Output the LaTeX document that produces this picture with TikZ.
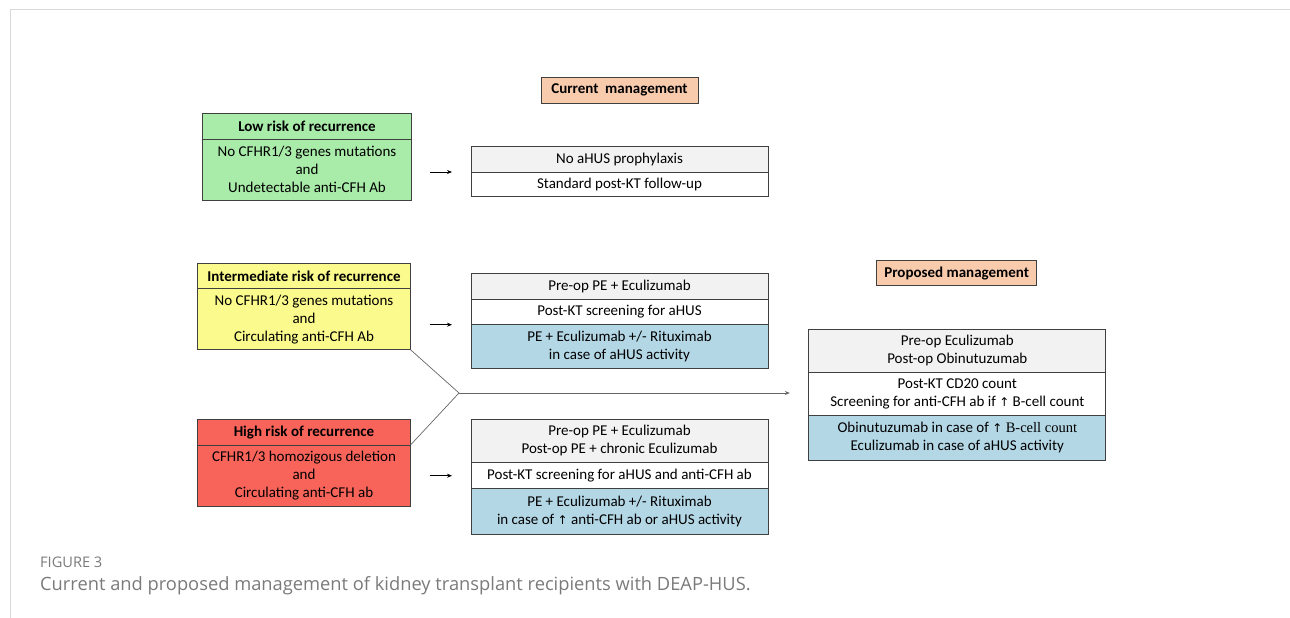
\documentclass[tikz,border=0pt]{standalone}
\usepackage{fontspec}
\setmainfont{Carlito}
\newfontfamily\capfont{Open Sans}
\newfontfamily\symfont{DejaVu Sans}
\newfontfamily\serifalt{Liberation Serif}
\usetikzlibrary{positioning,arrows.meta}
\definecolor{lowgreen}{HTML}{A9EBA9}
\definecolor{intyellow}{HTML}{FBFA8C}
\definecolor{highred}{HTML}{F8645A}
\definecolor{peach}{HTML}{F8CBAD}
\definecolor{rowgray}{HTML}{F2F2F2}
\definecolor{rowblue}{HTML}{B4D7E6}
\definecolor{boxline}{HTML}{404040}
\definecolor{framegray}{HTML}{D9D9D9}
\definecolor{capgray}{HTML}{7A7A7A}
\newcommand{\uparr}{{\symfont\fontsize{12}{18}\selectfont ↑}}
\tikzset{
	cell/.style={draw=boxline, line width=0.8pt, align=center, inner sep=0pt, outer sep=0pt,
		font=\fontsize{15}{18}\selectfont},
	head/.style={cell, font=\fontsize{15}{18}\selectfont\bfseries},
	riskbox/.style={minimum width=213pt},
	mgmtbox/.style={minimum width=297pt},
	smallarr/.style={draw=black, line width=0.7pt, -{Stealth[length=5pt,width=4pt]},
		shorten <=19pt, shorten >=19pt},
	joinline/.style={draw=boxline!80, line width=0.7pt}
}
\begin{document}
\begin{tikzpicture}[x=1pt,y=-1pt]
		\useasboundingbox (0,0) rectangle (1290,618);
		%frame%
		\draw[framegray, line width=1pt] (1290,10) -- (10,10) -- (10,618);
		
		%headings%
		\node[head, fill=peach, minimum width=157pt, minimum height=26pt] (curh) at (619.5,90) {Current\ \ management};
		\node[head, fill=peach, minimum width=160pt, minimum height=25pt] (proph) at (956.7,273.2) {Proposed management};
		
		%risk groups%
		\node[head, riskbox, fill=lowgreen, minimum width=208.6pt, minimum height=26pt, anchor=north] (lowh) at (307,113.3) {Low risk of recurrence};
		\node[cell, riskbox, fill=lowgreen, minimum width=208.6pt, minimum height=61pt, below=0pt of lowh] (lowb)
			{No CFHR1/3 genes mutations\\and\\Undetectable anti-CFH Ab};
		
		\node[head, riskbox, fill=intyellow, minimum height=25.7pt, anchor=north] (inth) at (304,263) {Intermediate risk of recurrence};
		\node[cell, riskbox, fill=intyellow, minimum height=61pt, below=0pt of inth] (intb)
			{No CFHR1/3 genes mutations\\and\\Circulating anti-CFH Ab};
		
		\node[head, riskbox, fill=highred, minimum height=25.3pt, anchor=north] (highh) at (304,419.7) {High risk of recurrence};
		\node[cell, riskbox, fill=highred, minimum height=61.7pt, below=0pt of highh] (highb)
			{CFHR1/3 homozigous deletion\\and\\Circulating anti-CFH ab};
		
		%current management, low%
		\node[cell, mgmtbox, fill=rowgray, minimum height=25.3pt, anchor=north] (cl1) at (619.5,146.7) {No aHUS prophylaxis};
		\node[cell, mgmtbox, fill=white, minimum height=24.7pt, below=0pt of cl1] (cl2) {Standard post-KT follow-up};
		
		%current management, intermediate%
		\node[cell, mgmtbox, fill=rowgray, minimum height=26pt, anchor=north] (ci1) at (619.5,273.3) {Pre-op PE + Eculizumab};
		\node[cell, mgmtbox, fill=white, minimum height=25.4pt, below=0pt of ci1] (ci2) {Post-KT screening for aHUS};
		\node[cell, mgmtbox, fill=rowblue, minimum height=43.3pt, below=0pt of ci2] (ci3)
			{PE + Eculizumab +/- Rituximab\\in case of aHUS activity};
		
		%current management, high%
		\node[cell, mgmtbox, fill=rowgray, minimum height=43.7pt, anchor=north] (ch1) at (619.5,419) 
			{Pre-op PE + Eculizumab\\Post-op PE + chronic Eculizumab};
		\node[cell, mgmtbox, fill=white, minimum height=26pt, below=0pt of ch1] (ch2) {Post-KT screening for aHUS and anti-CFH ab};
		\node[cell, mgmtbox, fill=rowblue, minimum height=45.3pt, below=0pt of ch2] (ch3)
			{PE + Eculizumab +/- Rituximab\\in case of \uparr\ anti-CFH ab or aHUS activity};
		
		%proposed management%
		\node[cell, mgmtbox, fill=rowgray, minimum height=43.7pt, anchor=north] (pm1) at (957.3,329) 
			{Pre-op Eculizumab\\Post-op Obinutuzumab};
		\node[cell, mgmtbox, fill=white, minimum height=43pt, below=0pt of pm1] (pm2)
			{Post-KT CD20 count\\Screening for anti-CFH ab if \uparr\ B-cell count};
		\node[cell, mgmtbox, fill=rowblue, minimum height=44.3pt, below=0pt of pm2] (pm3)
			{Obinutuzumab in case of \uparr\ {\serifalt\fontsize{14.5}{18}\selectfont B-cell count}\\Eculizumab in case of aHUS activity};
		
		%arrows%
		\draw[smallarr] (lowb.east |- cl1.south) -- (cl1.south west);
		\draw[smallarr] (intb.east |- ci2.south) -- (ci2.south west);
		\draw[smallarr] (highb.east |- ch2.west) -- (ch2.west);
		
		\coordinate (junc) at (459,393);
		\draw[joinline] (intb.south east) -- (junc) -- (highh.south east);
		\draw[joinline, -{Stealth[length=5pt,width=4pt]}, shorten >=19pt] (junc) -- (junc -| pm2.west);
		
		%caption%
		\node[anchor=base west, text=capgray, font=\capfont\fontsize{14.6}{16}\selectfont, inner sep=0pt] (figno) at (40,567) {FIGURE 3};
		\node[anchor=base west, text=capgray, font=\capfont\fontsize{18.3}{20}\selectfont, inner sep=0pt] (figcap) at (40,590)
			{Current and proposed management of kidney transplant recipients with DEAP-HUS.};
\end{tikzpicture}
\end{document}
